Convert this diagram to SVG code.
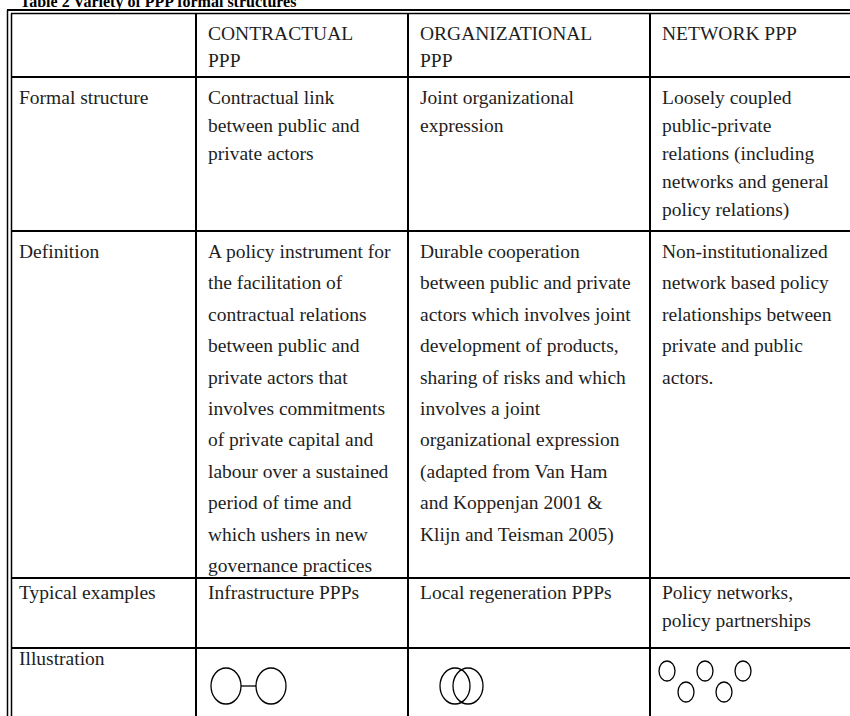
<svg xmlns="http://www.w3.org/2000/svg" width="850" height="716" viewBox="0 0 850 716">
<style>
text{font-family:"Liberation Serif","Times New Roman",serif;font-size:19.5px;fill:#1e1e1e}
.t{font-weight:bold;font-size:16px;fill:#000}
.b{stroke:#000;stroke-width:2;fill:none}
.d{stroke:#000;stroke-width:1.5;fill:none}
.c{stroke:#000;stroke-width:1.3;fill:none}
</style>
<rect width="850" height="716" fill="#fff"/>
<text class="t" x="20" y="6.5">Table 2 Variety of PPP formal structures</text>
<g id="grid">
<line class="b" x1="7" y1="10" x2="850" y2="10"/>
<line class="d" x1="11" y1="13.5" x2="850" y2="13.5"/>
<line class="d" x1="7.5" y1="10" x2="7.5" y2="716"/>
<line class="d" x1="11.5" y1="13.5" x2="11.5" y2="716"/>
<line class="b" x1="196" y1="13.5" x2="196" y2="716"/>
<line class="b" x1="408" y1="13.5" x2="408" y2="716"/>
<line class="b" x1="650" y1="13.5" x2="650" y2="716"/>
<line class="b" x1="11" y1="77" x2="850" y2="77"/>
<line class="b" x1="11" y1="231" x2="850" y2="231"/>
<line class="b" x1="11" y1="578" x2="850" y2="578"/>
<line class="b" x1="11" y1="648" x2="850" y2="648"/>
</g>
<g id="header">
<text x="208" y="40">CONTRACTUAL</text><text x="208" y="67">PPP</text>
<text x="420" y="40">ORGANIZATIONAL</text><text x="420" y="67">PPP</text>
<text x="662" y="40">NETWORK PPP</text>
</g>
<g id="row-formal">
<text x="19" y="104">Formal structure</text>
<text x="208" y="104">Contractual link</text>
<text x="208" y="132">between public and</text>
<text x="208" y="160">private actors</text>
<text x="420" y="104">Joint organizational</text>
<text x="420" y="132">expression</text>
<text x="662" y="104">Loosely coupled</text>
<text x="662" y="132">public-private</text>
<text x="662" y="160">relations (including</text>
<text x="662" y="188">networks and general</text>
<text x="662" y="216">policy relations)</text>
</g>
<g id="row-definition">
<text x="19" y="258">Definition</text>
<text x="208" y="258">A policy instrument for</text>
<text x="208" y="289.4">the facilitation of</text>
<text x="208" y="320.8">contractual relations</text>
<text x="208" y="352.2">between public and</text>
<text x="208" y="383.6">private actors that</text>
<text x="208" y="415">involves commitments</text>
<text x="208" y="446.4">of private capital and</text>
<text x="208" y="477.8">labour over a sustained</text>
<text x="208" y="509.2">period of time and</text>
<text x="208" y="540.6">which ushers in new</text>
<text x="208" y="572">governance practices</text>
<text x="420" y="258">Durable cooperation</text>
<text x="420" y="289.4">between public and private</text>
<text x="420" y="320.8">actors which involves joint</text>
<text x="420" y="352.2">development of products,</text>
<text x="420" y="383.6">sharing of risks and which</text>
<text x="420" y="415">involves a joint</text>
<text x="420" y="446.4">organizational expression</text>
<text x="420" y="477.8">(adapted from Van Ham</text>
<text x="420" y="509.2">and Koppenjan 2001 &amp;</text>
<text x="420" y="540.6">Klijn and Teisman 2005)</text>
<text x="662" y="258">Non-institutionalized</text>
<text x="662" y="289.4">network based policy</text>
<text x="662" y="320.8">relationships between</text>
<text x="662" y="352.2">private and public</text>
<text x="662" y="383.6">actors.</text>
</g>
<g id="row-examples">
<text x="19" y="599">Typical examples</text>
<text x="208" y="599">Infrastructure PPPs</text>
<text x="420" y="599">Local regeneration PPPs</text>
<text x="662" y="599">Policy networks,</text>
<text x="662" y="627">policy partnerships</text>
</g>
<g id="row-illustration">
<text x="19" y="665">Illustration</text>
<g id="ill-contractual">
<ellipse class="c" cx="226" cy="686" rx="15" ry="18"/>
<ellipse class="c" cx="271" cy="686" rx="15" ry="18"/>
<line class="c" x1="241" y1="686" x2="256" y2="686"/>
</g>
<g id="ill-organizational">
<ellipse class="c" cx="455" cy="686" rx="15" ry="18"/>
<ellipse class="c" cx="468" cy="686" rx="15" ry="18"/>
</g>
<g id="ill-network">
<ellipse class="c" cx="667" cy="671" rx="8" ry="10"/>
<ellipse class="c" cx="705" cy="671" rx="8" ry="10"/>
<ellipse class="c" cx="743" cy="671" rx="8" ry="10"/>
<ellipse class="c" cx="686" cy="692" rx="8" ry="10"/>
<ellipse class="c" cx="724" cy="692" rx="8" ry="10"/>
</g>
</g>
</svg>
